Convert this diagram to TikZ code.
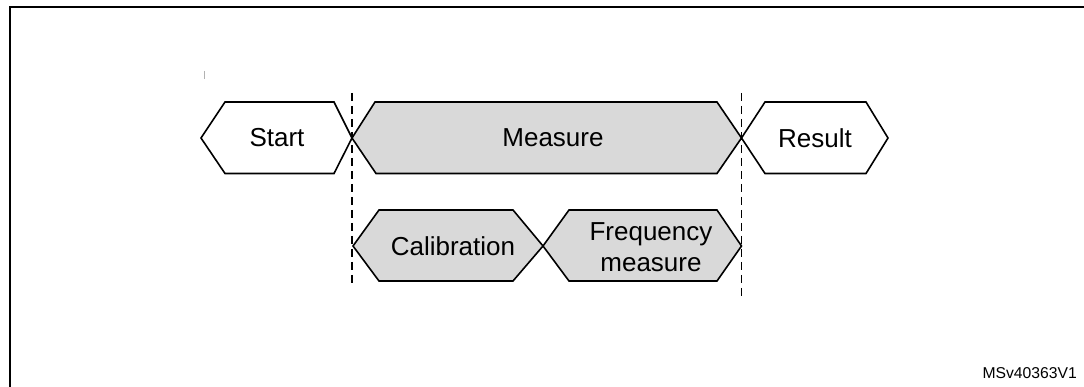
\documentclass[tikz,border=0pt]{standalone}
\usepackage{fontspec}
\setmainfont{Liberation Sans}
\definecolor{hexfill}{RGB}{217,217,217}
\tikzset{
  hexwhite/.style={draw=black, line width=1.6pt, fill=white, line join=miter},
  hexgrey/.style={draw=black, line width=1.6pt, fill=hexfill, line join=miter},
  lbl/.style={font=\fontsize{26}{31}\selectfont, inner sep=0pt, align=center},
  guide/.style={draw=black, line width=1.1pt, dash pattern=on 8pt off 5pt},
  frame/.style={draw=black, line width=2.2pt}
}
\begin{document}
\begin{tikzpicture}[x=1pt,y=-1pt]
\useasboundingbox (0,0) rectangle (1084,387);
\begin{scope}
\clip (0,0) rectangle (1084,387);
\draw[frame] (10,7) rectangle (1120,420);
\end{scope}
% tiny mark
\draw[gray!60, line width=0.8pt] (204,71) -- (204,79);
% guide coordinates
\coordinate (gLtop) at (352,93);
\coordinate (gLbot) at (352,284);
\coordinate (gRtop) at (741.5,93);
\coordinate (gRbot) at (741.5,296);
\draw[guide] (gLtop) -- (gLbot);
\draw[guide] (gRtop) -- (gRbot);
% top row
\draw[hexwhite] (201,138) -- (225,102) -- (334,102) -- (352,138) -- (334,173.5) -- (225,173.5) -- cycle;
\draw[hexgrey] (352,138) -- (375,102) -- (717,102) -- (741.5,138) -- (717,173.5) -- (376,173.5) -- cycle;
\draw[hexwhite] (741.5,138) -- (765,102) -- (866,102) -- (888,138) -- (866,173.5) -- (765,173.5) -- cycle;
\node[lbl] (start) at (277,138) {Start};
\node[lbl] (measure) at (553,138) {Measure};
\node[lbl] (result) at (815,138) {Result};
% bottom row
\draw[hexgrey] (353,246) -- (379,210) -- (513,210) -- (543,246) -- (513,281) -- (379,281) -- cycle;
\draw[hexgrey] (543,246) -- (569,210) -- (717,210) -- (741.5,246) -- (717,281) -- (569,281) -- cycle;
\node[lbl] (calib) at (453,246) {Calibration};
\node[lbl] (freq) at (651,247) {Frequency\\measure};
% id
\node[font=\fontsize{15.7}{18}\selectfont, anchor=base east, inner sep=0pt] (id) at (1077,378) {MSv40363V1};
\end{tikzpicture}
\end{document}
